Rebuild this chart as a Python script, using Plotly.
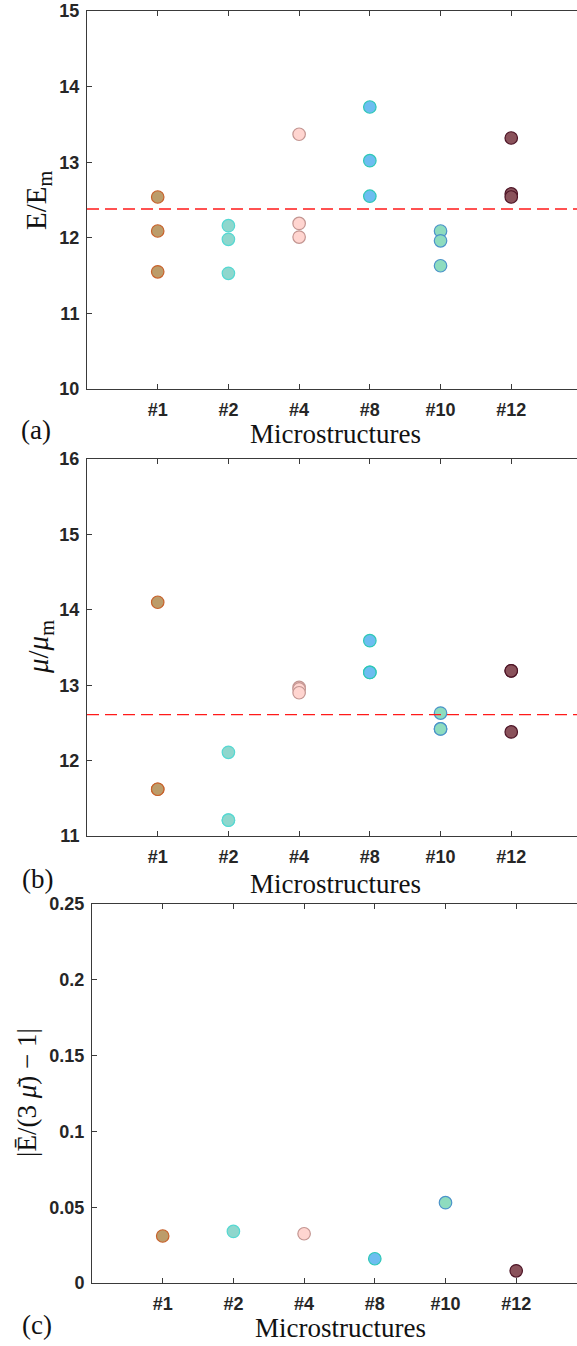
import plotly.graph_objects as go

# ---------------- data ----------------
categories = ["#1", "#2", "#4", "#8", "#10", "#12"]

# Panel (a): E/Em, three samples per microstructure
E_ratio = [
    [12.54, 12.09, 11.55],
    [12.16, 11.98, 11.53],
    [13.37, 12.19, 12.01],
    [13.73, 13.02, 12.55],
    [12.09, 11.96, 11.63],
    [13.32, 12.58, 12.54],
]
E_mean_line = 12.38

# Panel (b): mu/mu_m, three samples per microstructure (some overlap)
mu_ratio = [
    [14.10, 11.62, 11.62],
    [12.11, 11.21, 11.21],
    [12.97, 12.95, 12.90],
    [13.59, 13.17, 13.17],
    [12.63, 12.42, 12.42],
    [13.19, 13.19, 12.38],
]
mu_mean_line = 12.61

# Panel (c): |E_bar/(3 mu_bar) - 1|
iso_error = [0.031, 0.034, 0.0325, 0.016, 0.053, 0.008]

fill_colors = ["#bc9c6a", "#8ed7cd", "#ffd5d0", "#6dbdf0", "#8edcbf", "#8a525b"]
edge_colors = ["#c8622c", "#55d8d2", "#c39591", "#2dc8b6", "#4b93c9", "#4d1426"]

# ---------------- figure ----------------
W, H = 577, 1346
fig = go.Figure()

positions = list(range(1, len(categories) + 1))

def add_group(values_per_cat, xa, ya):
    for i, cat in enumerate(categories):
        vals = values_per_cat[i]
        if not isinstance(vals, list):
            vals = [vals]
        fig.add_trace(go.Scatter(
            x=[positions[i]] * len(vals), y=vals, mode="markers",
            marker=dict(size=12.5, color=fill_colors[i],
                        line=dict(color=edge_colors[i], width=1.2)),
            xaxis=xa, yaxis=ya, showlegend=False, name=cat,
        ))

add_group(E_ratio, "x", "y")
add_group(mu_ratio, "x2", "y2")
add_group(iso_error, "x3", "y3")

def py(px):
    return 1 - px / H

def pxx(px):
    return px / W

tick_font = dict(family="Liberation Sans, Arial", size=18, color="#262626")
axis_color = "#3a3a3a"

def xaxis_cfg(left_px, xmax, anchor):
    return dict(
        domain=[pxx(left_px), 1], range=[0, xmax], anchor=anchor, automargin=False,
        tickmode="array", tickvals=positions, ticktext=[f"<b>{c}</b>" for c in categories],
        ticks="inside", ticklen=5, tickcolor=axis_color, tickwidth=1,
        showline=True, linecolor=axis_color, linewidth=1, mirror="ticks",
        showgrid=False, zeroline=False, tickfont=tick_font, ticklabelstandoff=4,
    )

def yaxis_cfg(top_px, bot_px, rng, tv, tt, anchor):
    return dict(
        domain=[py(bot_px), py(top_px)], range=rng, anchor=anchor, automargin=False,
        tickmode="array", tickvals=tv, ticktext=[f"<b>{t}</b>" for t in tt],
        ticks="inside", ticklen=5, tickcolor=axis_color, tickwidth=1,
        showline=True, linecolor=axis_color, linewidth=1, mirror=False,
        showgrid=False, zeroline=False, tickfont=tick_font, ticklabelstandoff=3,
    )

fig.update_layout(
    width=W, height=H, margin=dict(l=0, r=0, t=0, b=0, autoexpand=False),
    paper_bgcolor="white", plot_bgcolor="white", showlegend=False,
    xaxis=xaxis_cfg(87, 6.93, "y"),
    yaxis=yaxis_cfg(11, 389, [10, 15], [10, 11, 12, 13, 14, 15],
                    ["10", "11", "12", "13", "14", "15"], "x"),
    xaxis2=xaxis_cfg(87, 6.93, "y2"),
    yaxis2=yaxis_cfg(459, 836, [11, 16], [11, 12, 13, 14, 15, 16],
                     ["11", "12", "13", "14", "15", "16"], "x2"),
    xaxis3=xaxis_cfg(92, 6.86, "y3"),
    yaxis3=yaxis_cfg(904, 1283, [0, 0.25], [0, 0.05, 0.1, 0.15, 0.2, 0.25],
                     ["0", "0.05", "0.1", "0.15", "0.2", "0.25"], "x3"),
)

# mean dashed lines (drawn above markers)
for yref, xref, val in [("y", "x", E_mean_line), ("y2", "x2", mu_mean_line)]:
    fig.add_shape(type="line", xref=f"{xref} domain", yref=yref, x0=0, x1=1,
                  y0=val, y1=val, layer="above",
                  line=dict(color="#ff1a1a", width=1.4, dash="12px,6px"))

serif = dict(family="Liberation Serif, Times New Roman, serif", size=27, color="#111111")

annots = [
    ("(a)", 36, 430, 0, 27), ("Microstructures", 335, 434, 0, 27),
    ("(b)", 37, 879, 0, 27), ("Microstructures", 335, 884, 0, 27),
    ("(c)", 37, 1325, 0, 27), ("Microstructures", 340, 1328, 0, 27),
    ("E/E<sub>m</sub>", 38, 200, -90, 29),
    ("<i>μ</i>/<i>μ</i><sub>m</sub>", 40, 647, -90, 29),
    ("|Ē/(3 <i>μ̄</i>) − 1|", 27, 1093, -90, 27),
]
for text, x, y, ang, fs in annots:
    fig.add_annotation(text=text, x=pxx(x), y=py(y), xref="paper", yref="paper",
                       xanchor="center", yanchor="middle", showarrow=False,
                       textangle=ang, font=dict(serif, size=fs))

fig.write_html(
    "out.html",
    config={"displayModeBar": False},
    post_script="document.body.style.margin='0';document.body.style.overflow='hidden';",
)
